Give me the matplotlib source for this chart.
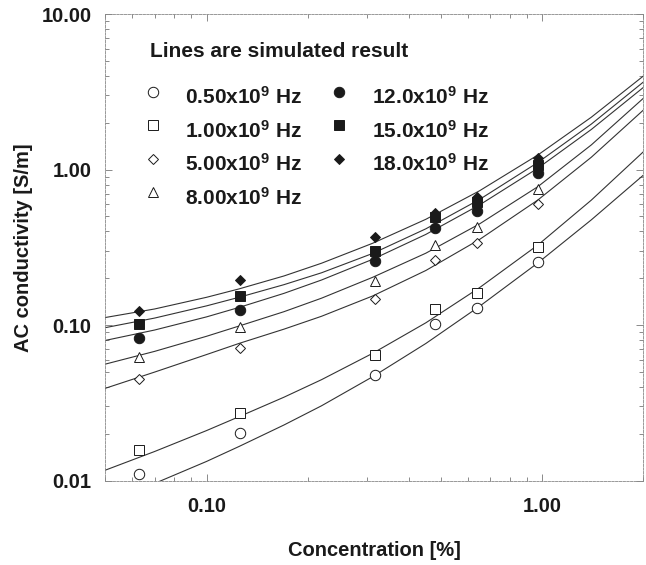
import matplotlib
matplotlib.use("Agg")
import matplotlib.pyplot as plt
from matplotlib.ticker import FixedLocator, FuncFormatter, LogLocator, NullFormatter
from matplotlib.transforms import ScaledTranslation

plt.rcParams["font.family"] = ["Liberation Sans", "DejaVu Sans"]
plt.rcParams["font.weight"] = "bold"
plt.rcParams["mathtext.fontset"] = "custom"
plt.rcParams["mathtext.rm"] = "Liberation Sans:bold"
plt.rcParams["mathtext.bf"] = "Liberation Sans:bold"
plt.rcParams["mathtext.default"] = "bf"

# measured AC conductivity [S/m] vs concentration [%]
conc = [0.063, 0.126, 0.318, 0.48, 0.64, 0.97]
freq_labels = ["0.50", "1.00", "5.00", "8.00", "12.0", "15.0", "18.0"]

sigma_05 = [0.0110, 0.0204, 0.0476, 0.102, 0.128, 0.255]
sigma_1 = [0.0158, 0.0274, 0.0643, 0.127, 0.162, 0.319]
sigma_5 = [0.0453, 0.0716, 0.147, 0.262, 0.336, 0.598]
sigma_8 = [0.0621, 0.0972, 0.193, 0.327, 0.429, 0.746]
sigma_12 = [0.0826, 0.126, 0.257, 0.421, 0.543, 0.946]
sigma_15 = [0.1016, 0.153, 0.299, 0.495, 0.621, 1.07]
sigma_18 = [0.1227, 0.195, 0.370, 0.525, 0.666, 1.18]

# simulated curves, sampled along the concentration axis
sim_conc = [0.05, 0.07, 0.1, 0.125, 0.17, 0.22, 0.3125, 0.45, 0.65, 0.97, 1.4, 2.0]
sim_05 = [0.0072, 0.0096, 0.0133, 0.0166, 0.0228, 0.0303, 0.0466, 0.0762, 0.132, 0.251, 0.475, 0.92]
sim_1 = [0.0117, 0.0154, 0.0210, 0.0258, 0.0344, 0.0446, 0.0659, 0.1035, 0.174, 0.327, 0.636, 1.30]
sim_5 = [0.0393, 0.0499, 0.0647, 0.0763, 0.0942, 0.114, 0.154, 0.2245, 0.355, 0.637, 1.20, 2.41]
sim_8 = [0.0562, 0.0678, 0.0848, 0.0987, 0.122, 0.149, 0.203, 0.290, 0.447, 0.776, 1.44, 2.87]
sim_12 = [0.0798, 0.093, 0.113, 0.130, 0.160, 0.195, 0.265, 0.383, 0.592, 1.02, 1.81, 3.37]
sim_15 = [0.0964, 0.111, 0.133, 0.151, 0.182, 0.217, 0.289, 0.416, 0.642, 1.11, 1.96, 3.65]
sim_18 = [0.112, 0.127, 0.151, 0.171, 0.207, 0.250, 0.336, 0.479, 0.730, 1.24, 2.17, 3.99]

measured = [sigma_05, sigma_1, sigma_5, sigma_8, sigma_12, sigma_15, sigma_18]
simulated = [sim_05, sim_1, sim_5, sim_8, sim_12, sim_15, sim_18]
markers = ["o", "s", "D", "^", "o", "s", "D"]
filled = [False, False, False, False, True, True, True]
msizes = [7.5, 7.0, 5.5, 7.5, 7.5, 7.0, 5.5]

ink = "#1a1a1a"

fig = plt.figure(figsize=(6.46, 5.65), dpi=100)
ax = fig.add_axes([0.1633, 0.1492, 0.8325, 0.826])
ax.set_xscale("log")
ax.set_yscale("log")

for ys in simulated:
    ax.plot(sim_conc, ys, color="#333333", lw=0.8, zorder=2)

handles = []
for ys, lab, m, f, ms in zip(measured, freq_labels, markers, filled, msizes):
    h, = ax.plot(conc, ys, ls="none", marker=m, ms=ms,
                 mfc=ink if f else "white", mec=ink, mew=0.7,
                 label=lab + "x10$^{9}$ Hz", zorder=3)
    handles.append(h)

ax.set_xlim(0.05, 2.0)
ax.set_ylim(0.01, 10.0)

ax.xaxis.set_major_locator(FixedLocator([0.1, 1.0]))
ax.xaxis.set_minor_locator(LogLocator(base=10, subs=range(2, 10)))
ax.yaxis.set_major_locator(FixedLocator([0.01, 0.1, 1.0, 10.0]))
ax.yaxis.set_minor_locator(LogLocator(base=10, subs=range(2, 10)))
fmt = FuncFormatter(lambda v, _: f"{v:.2f}")
ax.xaxis.set_major_formatter(fmt)
ax.yaxis.set_major_formatter(fmt)
ax.xaxis.set_minor_formatter(NullFormatter())
ax.yaxis.set_minor_formatter(NullFormatter())

ax.tick_params(which="both", direction="in", top=True, right=True,
               color="#777777", width=0.6, labelsize=14.5, labelcolor=ink)
ax.tick_params(which="major", length=5)
ax.tick_params(which="minor", length=3)
ax.tick_params(axis="x", which="major", pad=12)
ax.tick_params(axis="y", which="major", pad=10)
for lbl in ax.get_xticklabels() + ax.get_yticklabels():
    lbl.set_fontweight("bold")

for sp in ax.spines.values():
    sp.set_color("#888888")
    sp.set_linewidth(0.6)
    sp.set_linestyle((0, (3, 1.5)))

ax.set_xlabel("Concentration [%]", fontsize=14.5, fontweight="bold", color=ink, labelpad=18)
ax.set_ylabel("AC conductivity [S/m]", fontsize=14.5, fontweight="bold", color=ink, labelpad=6)

ax.text(0.0827, 0.9207, "Lines are simulated result", transform=ax.transAxes,
        ha="left", va="center", fontsize=15, fontweight="bold", color=ink)

leg = ax.legend(handles=handles, ncol=2, frameon=False,
                prop={"size": 15, "weight": "bold"},
                handlelength=1.0, handletextpad=1.05, borderpad=0.0,
                borderaxespad=0.0, columnspacing=1.28, labelspacing=0.56,
                loc="upper left", bbox_to_anchor=(0.069, 0.8457))
for t in leg.get_texts():
    t.set_color(ink)
# legend symbols sit a little above the text line
lift = ScaledTranslation(0, 0.05, fig.dpi_scale_trans)
for lh in leg.legend_handles:
    lh.set_transform(lh.get_transform() + lift)

fig.savefig("out.png", dpi=100)
